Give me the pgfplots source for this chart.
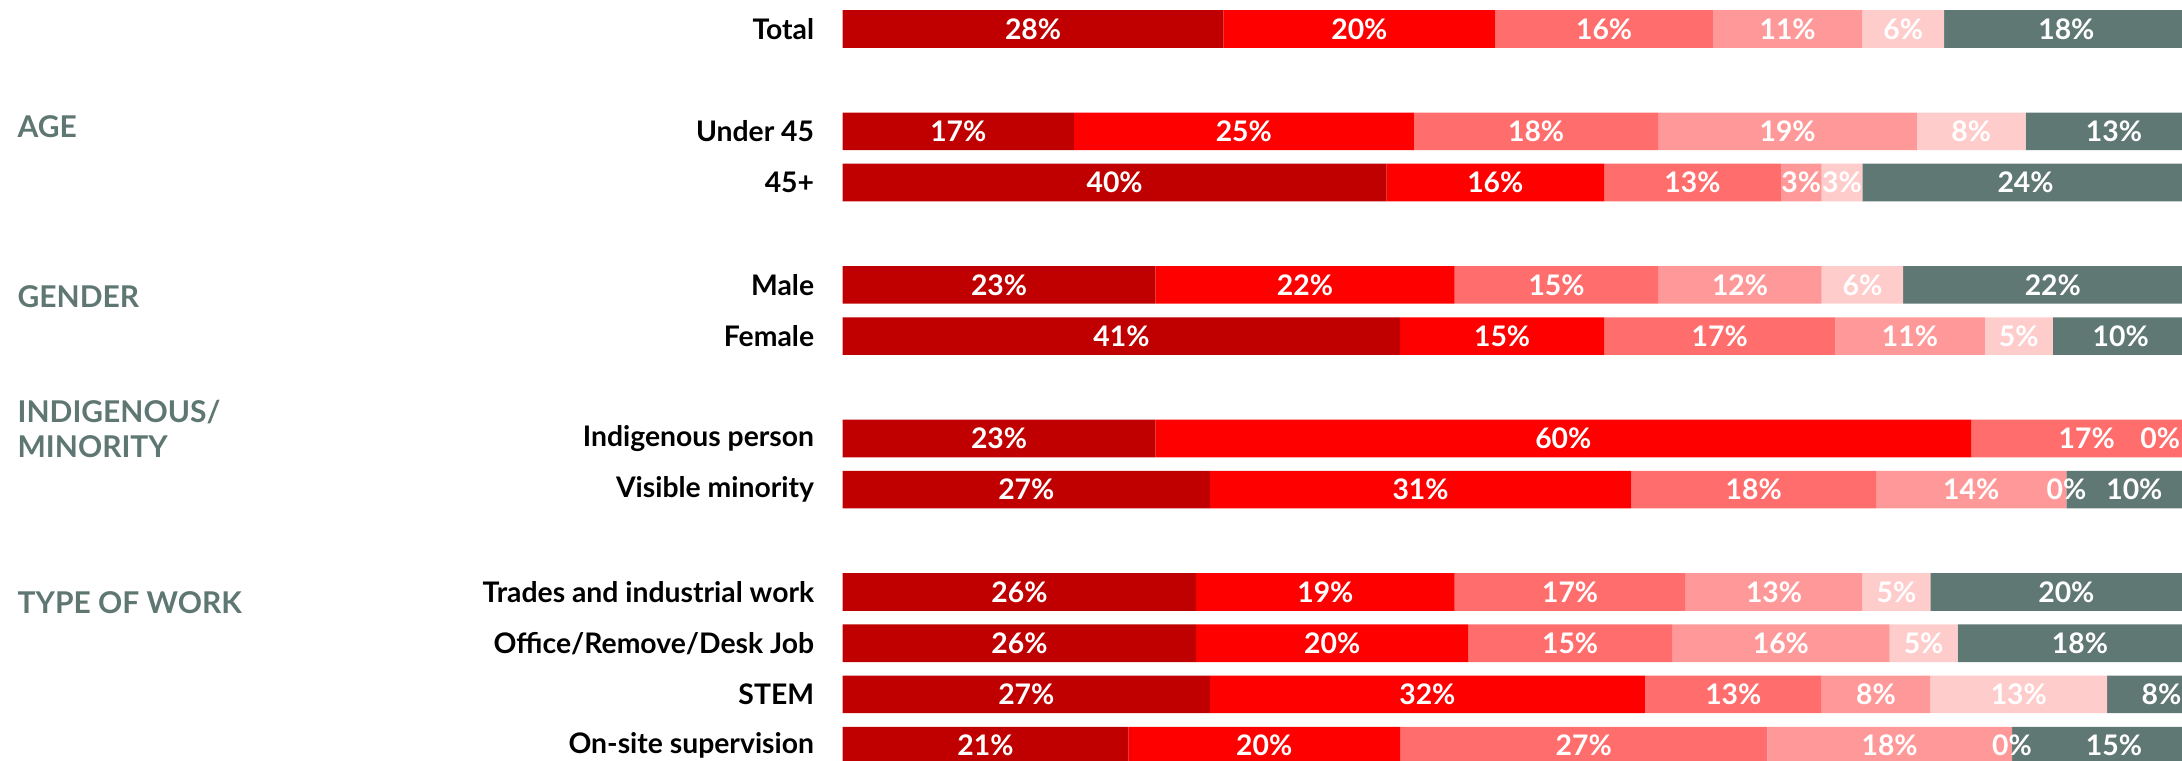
\documentclass[border=0pt]{standalone}
\usepackage{pgfplots}
\pgfplotsset{compat=1.18}
\usepackage{pgfplotstable}
\usepackage{fontspec}
\setmainfont{Lato}
\definecolor{c1}{HTML}{C00000}
\definecolor{c2}{HTML}{FF0000}
\definecolor{c3}{HTML}{FF6D6D}
\definecolor{c4}{HTML}{FF9999}
\definecolor{c5}{HTML}{FFCCCC}
\definecolor{c6}{HTML}{607874}
\definecolor{grp}{HTML}{5F7772}
\pgfplotstableread{
y a b c d e f
0 28 20 16 11 6 18
2 17 25 18 19 8 13
3 40 16 13 3 3 24
5 23 22 15 12 6 22
6 41 15 17 11 5 10
8 23 60 17 0 0 0
9 27 31 18 14 0 10
11 26 19 17 13 5 20
12 26 20 15 16 5 18
13 27 32 13 8 13 8
14 21 20 27 18 0 15
}\data
\newcommand{\lab}{\fontsize{8.5}{10}\selectfont\bfseries}
\newcommand{\glab}{\fontsize{9}{10.6}\selectfont\bfseries}
\begin{document}
\begin{tikzpicture}
\begin{axis}[
  at={(0,0)}, anchor=south west,
  scale only axis, width=412.08pt, height=228.3pt,
  xbar stacked, bar width=11.3pt,
  xmin=0, xmax=101, ymin=-0.566, ymax=14.297, y dir=reverse,
  axis line style={draw=none}, tick style={draw=none},
  xtick=\empty,
  ytick={0,2,3,5,6,8,9,11,12,13,14},
  yticklabels={Total,Under 45,45+,Male,Female,Indigenous person,Visible minority,Trades and industrial work,Office/Remove/Desk Job,STEM,On-site supervision},
  yticklabel style={font=\lab, text=black, inner sep=0pt, xshift=-8.4pt},
  /pgf/number format/assume math mode=true,
  point meta=explicit,
  nodes near coords={\pgfmathprintnumber[fixed,precision=0,assume math mode=true]{\pgfplotspointmeta}\%},
  every node near coord/.append style={font=\lab, text=white, anchor=center},
]
\addplot[draw=none, fill=c1] table[x=a,y=y,meta=a]{\data};
\addplot[draw=none, fill=c2] table[x=b,y=y,meta=b]{\data};
\addplot[draw=none, fill=c3] table[x=c,y=y,meta=c]{\data};
\addplot[draw=none, fill=c4] table[x=d,y=y,meta=d]{\data};
\addplot[draw=none, fill=c5] table[x=e,y=y,meta=e]{\data};
\addplot[draw=none, fill=c6] table[x=f,y=y,meta=f]{\data};
% positions of the labels of the zero-width segments
\coordinate (z1) at (axis cs:96.9,8);
\coordinate (z2) at (axis cs:90,9);
\coordinate (z3) at (axis cs:86,14);
\end{axis}
\begin{scope}[every node/.style={font=\lab, text=white}]
\node at (z1) {0\%};
\node at (z2) {0\%};
\node at (z3) {0\%};
\end{scope}
\begin{scope}[every node/.style={anchor=west, text=grp, font=\glab, inner sep=0pt, align=left}]
\node at (-247.8pt,190.3pt) {AGE};
\node at (-247.8pt,139.4pt) {GENDER};
\node at (-247.8pt,99.5pt) {INDIGENOUS/\\MINORITY};
\node at (-247.8pt,47.5pt) {TYPE OF WORK};
\end{scope}
\pgfresetboundingbox
\path[use as bounding box] (-252.9pt,0pt) rectangle (401.9pt,228.3pt);
\end{tikzpicture}
\end{document}
